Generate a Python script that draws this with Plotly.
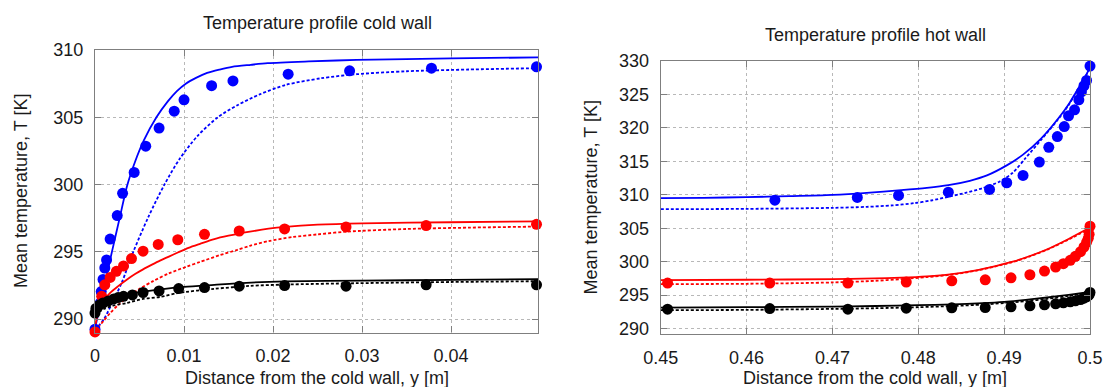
import plotly.graph_objects as go

# ---------------- Cold wall data ----------------
cold_blue_pts_x = [0.0, 0.0006, 0.0007, 0.0009, 0.0011, 0.0013, 0.0017, 0.0025, 0.0031, 0.0044, 0.0057, 0.0072, 0.0089, 0.0100, 0.0131, 0.0155, 0.0217, 0.0286, 0.0378, 0.0496]
cold_blue_pts_T = [289.25, 291.2, 292.05, 292.95, 293.8, 294.4, 295.95, 297.7, 299.35, 300.9, 302.85, 304.2, 305.45, 306.3, 307.35, 307.7, 308.2, 308.45, 308.65, 308.75]
cold_red_pts_x = [0.0, 0.00075, 0.0011, 0.0017, 0.0024, 0.0032, 0.0041, 0.0054, 0.0071, 0.0093, 0.0123, 0.0162, 0.0213, 0.0282, 0.0372, 0.0496]
cold_red_pts_T = [289.05, 291.7, 292.55, 293.1, 293.55, 293.95, 294.5, 295.05, 295.55, 295.9, 296.3, 296.55, 296.7, 296.85, 296.95, 297.05]
cold_black_pts_x = [0.0, 0.0001, 0.0005, 0.0009, 0.0015, 0.0021, 0.0026, 0.0032, 0.0042, 0.0054, 0.0072, 0.0094, 0.0123, 0.0162, 0.0213, 0.0282, 0.0372, 0.0496]
cold_black_pts_T = [290.45, 290.8, 291.05, 291.2, 291.35, 291.5, 291.6, 291.7, 291.8, 291.98, 292.1, 292.27, 292.35, 292.45, 292.5, 292.45, 292.55, 292.55]

cold_blue_solid_x = [0, 0.0005, 0.001, 0.0019, 0.0028, 0.0036, 0.0045, 0.0055, 0.0069, 0.0082, 0.0092, 0.0102, 0.0114, 0.0126, 0.014, 0.0154, 0.0175, 0.0194, 0.024, 0.0294, 0.04, 0.0498]
cold_blue_solid_T = [289.3, 290.8, 292.3, 295.0, 297.6, 299.9, 301.7, 303.3, 305.0, 306.2, 306.95, 307.5, 307.95, 308.3, 308.55, 308.75, 308.9, 309.02, 309.15, 309.26, 309.38, 309.45]
cold_blue_dash_x = [0, 0.001, 0.002, 0.003, 0.0043, 0.006, 0.0078, 0.0095, 0.0115, 0.0138, 0.016, 0.0185, 0.0214, 0.0254, 0.0294, 0.035, 0.042, 0.0498]
cold_blue_dash_T = [289.2, 290.0, 291.3, 292.7, 295.0, 297.6, 300.0, 301.9, 303.6, 305.0, 305.9, 306.7, 307.4, 307.9, 308.2, 308.42, 308.55, 308.65]
cold_red_solid_x = [0, 0.0002, 0.0005, 0.001, 0.0017, 0.0026, 0.0036, 0.0045, 0.0054, 0.0064, 0.0073, 0.0083, 0.0093, 0.0105, 0.0118, 0.0134, 0.015, 0.0174, 0.0195, 0.0214, 0.025, 0.03, 0.04, 0.0498]
cold_red_solid_T = [289.3, 290.1, 290.9, 291.4, 291.95, 292.45, 292.95, 293.35, 293.7, 294.05, 294.35, 294.65, 294.95, 295.3, 295.6, 295.95, 296.2, 296.5, 296.72, 296.86, 297.02, 297.12, 297.2, 297.27]
cold_red_dash_x = [0, 0.0005, 0.001, 0.0017, 0.0026, 0.0036, 0.005, 0.0066, 0.0083, 0.0103, 0.0118, 0.014, 0.016, 0.0174, 0.0195, 0.0222, 0.025, 0.0282, 0.035, 0.042, 0.0498]
cold_red_dash_T = [289.1, 289.5, 289.9, 290.45, 291.05, 291.6, 292.25, 292.85, 293.4, 293.9, 294.25, 294.75, 295.15, 295.45, 295.8, 296.1, 296.3, 296.5, 296.7, 296.8, 296.88]
cold_black_solid_x = [0, 0.0005, 0.001, 0.002, 0.0034, 0.005, 0.0074, 0.010, 0.0134, 0.017, 0.0214, 0.03, 0.04, 0.0498]
cold_black_solid_T = [290.4, 290.85, 291.1, 291.45, 291.8, 292.0, 292.22, 292.4, 292.55, 292.7, 292.8, 292.86, 292.92, 292.97]
cold_black_dash_x = [0, 0.001, 0.002, 0.0036, 0.0054, 0.0073, 0.0094, 0.0134, 0.0174, 0.0214, 0.0294, 0.04, 0.0498]
cold_black_dash_T = [290.3, 290.75, 291.0, 291.2, 291.5, 291.65, 291.95, 292.25, 292.47, 292.57, 292.67, 292.76, 292.82]

# ---------------- Hot wall data ----------------
hot_blue_pts_x = [0.4633, 0.4729, 0.4777, 0.4835, 0.4883, 0.4903, 0.4922, 0.4941, 0.4952, 0.4962, 0.4970, 0.4975, 0.4982, 0.4987, 0.4990, 0.4993, 0.4996, 0.5000]
hot_blue_pts_T = [309.2, 309.6, 309.9, 310.4, 310.8, 311.8, 312.9, 314.9, 317.1, 318.7, 320.2, 321.8, 322.7, 324.2, 325.4, 326.3, 327.1, 329.25]
hot_rb_pts_x = [0.4508, 0.4627, 0.4718, 0.4786, 0.4839, 0.4878, 0.4908, 0.4930, 0.4947, 0.4960, 0.4969, 0.4977, 0.4983, 0.4989, 0.4993, 0.4996, 0.4998, 0.4999, 0.5]
hot_red_pts_T = [296.8, 296.8, 296.8, 296.95, 297.15, 297.3, 297.6, 298.05, 298.6, 299.2, 299.7, 300.2, 300.8, 301.5, 302.2, 302.9, 303.5, 304.1, 305.3]
hot_black_pts_T = [292.9, 293.0, 292.9, 293.05, 293.1, 293.15, 293.25, 293.4, 293.55, 293.7, 293.85, 294.0, 294.15, 294.35, 294.55, 294.75, 294.95, 295.1, 295.4]

hot_blue_solid_x = [0.45, 0.455, 0.46, 0.465, 0.47, 0.474, 0.478, 0.481, 0.4835, 0.486, 0.488, 0.4903, 0.4922, 0.4943, 0.4963, 0.4975, 0.4983, 0.4992, 0.5]
hot_blue_solid_T = [309.5, 309.55, 309.65, 309.8, 310.0, 310.3, 310.7, 311.05, 311.45, 312.1, 312.9, 314.4, 316.0, 318.4, 321.4, 323.5, 325.2, 327.1, 329.0]
hot_blue_dash_x = [0.45, 0.46, 0.47, 0.474, 0.477, 0.4795, 0.4815, 0.4835, 0.4855, 0.4875, 0.4895, 0.491, 0.4925, 0.4943, 0.4963, 0.4975, 0.4983, 0.4992, 0.5]
hot_blue_dash_T = [307.85, 307.9, 308.05, 308.2, 308.42, 308.75, 309.15, 309.7, 310.3, 311.0, 312.0, 313.3, 315.5, 318.2, 321.3, 323.4, 325.1, 327.0, 329.0]
hot_red_line_x = [0.45, 0.46, 0.47, 0.475, 0.478, 0.481, 0.4837, 0.4869, 0.489, 0.491, 0.493, 0.4951, 0.4975, 0.5]
hot_red_solid_T = [297.25, 297.3, 297.4, 297.5, 297.62, 297.82, 298.12, 298.76, 299.35, 300.0, 300.85, 301.9, 303.4, 305.1]
hot_red_dash_T = [296.65, 296.7, 296.9, 297.15, 297.4, 297.7, 298.05, 298.7, 299.3, 299.95, 300.8, 301.85, 303.3, 305.0]
hot_black_line_x = [0.45, 0.46, 0.47, 0.475, 0.48, 0.484, 0.4875, 0.49, 0.4925, 0.495, 0.4975, 0.5]
hot_black_solid_T = [293.15, 293.2, 293.3, 293.38, 293.5, 293.62, 293.8, 294.0, 294.3, 294.65, 295.05, 295.5]
hot_black_dash_T = [292.75, 292.8, 292.95, 293.05, 293.2, 293.38, 293.6, 293.82, 294.1, 294.45, 294.9, 295.4]

cold_xticks = [0, 0.01, 0.02, 0.03, 0.04]
cold_xtext = ["0", "0.01", "0.02", "0.03", "0.04"]
hot_xticks = [0.45, 0.46, 0.47, 0.48, 0.49, 0.5]
hot_xtext = ["0.45", "0.46", "0.47", "0.48", "0.49", "0.5"]
cold_yticks = [290, 295, 300, 305, 310]
hot_yticks = [290, 295, 300, 305, 310, 315, 320, 325, 330]

BLUE, RED, BLACK = "#0000ff", "#ff0000", "#000000"
FONT = "Liberation Sans, Arial, sans-serif"

fig = go.Figure()


def add_line(x, y, color, dash, xa, ya):
    fig.add_trace(go.Scatter(x=x, y=y, mode="lines", xaxis=xa, yaxis=ya,
                             line=dict(color=color, width=1.8, dash=dash, shape="spline", smoothing=0.8),
                             showlegend=False, hoverinfo="skip"))


def add_pts(x, y, color, xa, ya):
    fig.add_trace(go.Scatter(x=x, y=y, mode="markers", xaxis=xa, yaxis=ya, cliponaxis=False,
                             marker=dict(color=color, size=11, line=dict(width=0)),
                             showlegend=False))


DASH = "3px,2px"
# cold wall
add_line(cold_blue_solid_x, cold_blue_solid_T, BLUE, "solid", "x", "y")
add_line(cold_blue_dash_x, cold_blue_dash_T, BLUE, DASH, "x", "y")
add_line(cold_red_solid_x, cold_red_solid_T, RED, "solid", "x", "y")
add_line(cold_red_dash_x, cold_red_dash_T, RED, DASH, "x", "y")
add_line(cold_black_solid_x, cold_black_solid_T, BLACK, "solid", "x", "y")
add_line(cold_black_dash_x, cold_black_dash_T, BLACK, DASH, "x", "y")
add_pts(cold_blue_pts_x, cold_blue_pts_T, BLUE, "x", "y")
add_pts(cold_red_pts_x, cold_red_pts_T, RED, "x", "y")
add_pts(cold_black_pts_x, cold_black_pts_T, BLACK, "x", "y")
# hot wall
add_line(hot_blue_solid_x, hot_blue_solid_T, BLUE, "solid", "x2", "y2")
add_line(hot_blue_dash_x, hot_blue_dash_T, BLUE, DASH, "x2", "y2")
add_line(hot_red_line_x, hot_red_solid_T, RED, "solid", "x2", "y2")
add_line(hot_red_line_x, hot_red_dash_T, RED, DASH, "x2", "y2")
add_line(hot_black_line_x, hot_black_solid_T, BLACK, "solid", "x2", "y2")
add_line(hot_black_line_x, hot_black_dash_T, BLACK, DASH, "x2", "y2")
add_pts(hot_blue_pts_x, hot_blue_pts_T, BLUE, "x2", "y2")
add_pts(hot_rb_pts_x, hot_red_pts_T, RED, "x2", "y2")
add_pts(hot_rb_pts_x, hot_black_pts_T, BLACK, "x2", "y2")

W, H = 1104, 387
axis_common = dict(showline=True, linecolor="#7f7f7f", linewidth=1.3, mirror="ticks",
                   ticks="inside", ticklen=6, tickcolor="#7f7f7f", tickwidth=1,
                   showgrid=True, gridcolor="#b8b8b8", griddash="dot", gridwidth=1,
                   zeroline=False, automargin=False,
                   tickfont=dict(family=FONT, size=18, color="#1a1a1a"),
                   ticklabelstandoff=7)

fig.update_layout(
    width=W, height=H, margin=dict(l=0, r=0, t=0, b=0, autoexpand=False),
    paper_bgcolor="white", plot_bgcolor="white",
    xaxis=dict(domain=[95 / W, 538.3 / W], range=[0, 0.0498], tickvals=cold_xticks, ticktext=cold_xtext,
               anchor="y", **axis_common),
    yaxis=dict(domain=[1 - 332.6 / H, 1 - 50 / H], range=[289, 310], tickvals=cold_yticks,
               anchor="x", **axis_common),
    xaxis2=dict(domain=[660.7 / W, 1090 / W], range=[0.45, 0.5], tickvals=hot_xticks, ticktext=hot_xtext,
                anchor="y2", **axis_common),
    yaxis2=dict(domain=[1 - 334.3 / H, 1 - 61 / H], range=[289.15, 330], tickvals=hot_yticks,
                anchor="x2", **axis_common),
)

ann = [
    dict(text="Temperature profile cold wall", x=317 / W, y=1 - 23 / H, size=18),
    dict(text="Temperature profile hot wall", x=875 / W, y=1 - 35 / H, size=18),
    dict(text="Distance from the cold wall, y [m]", x=317 / W, y=1 - 378 / H, size=18),
    dict(text="Distance from the cold wall, y [m]", x=875 / W, y=1 - 378 / H, size=18),
    dict(text="Mean temperature, T [K]", x=21 / W, y=1 - 191 / H, size=18, textangle=-90),
    dict(text="Mean temperature, T [K]", x=590 / W, y=1 - 197.5 / H, size=18, textangle=-90),
]
for a in ann:
    size = a.pop("size")
    fig.add_annotation(xref="paper", yref="paper", xanchor="center", yanchor="middle",
                       showarrow=False, font=dict(family=FONT, size=size, color="#1a1a1a"), **a)

fig.write_html("out.html")
